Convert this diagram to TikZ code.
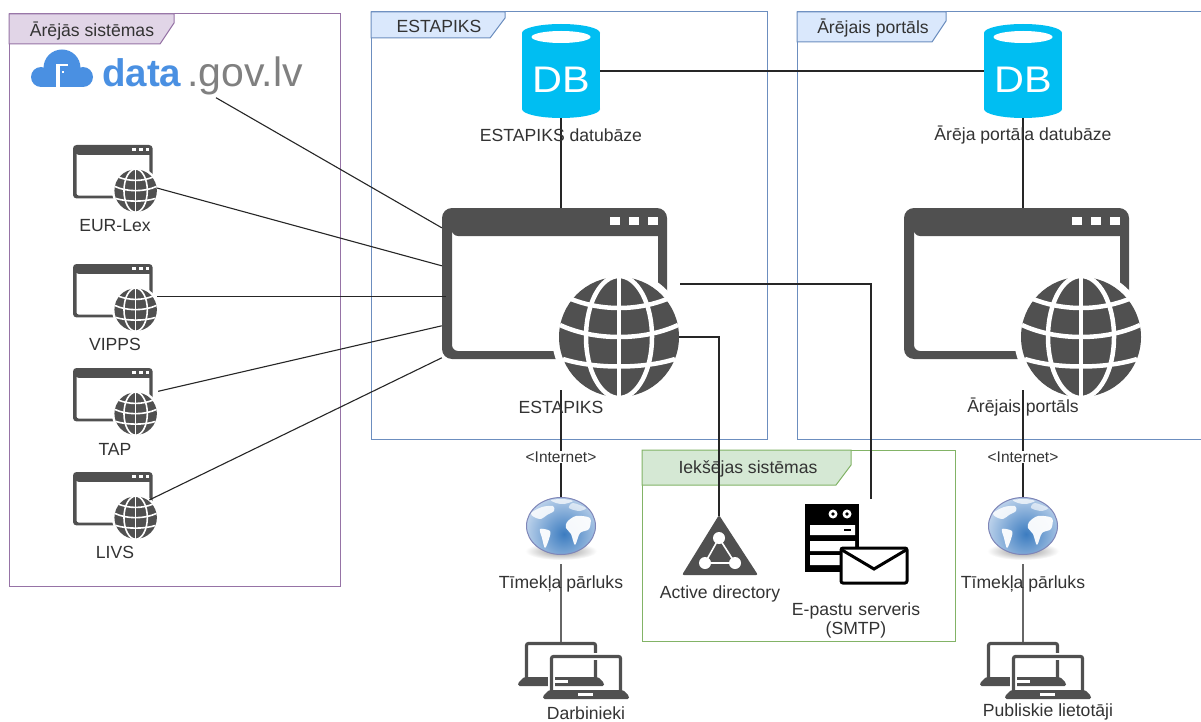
\documentclass[tikz,border=0pt]{standalone}
\usepackage{fontspec}
\setmainfont{Liberation Sans}
\definecolor{icongray}{HTML}{505050}
\definecolor{txtgray}{HTML}{333333}
\definecolor{dbblue}{HTML}{00BEF2}
\definecolor{cloudblue}{HTML}{4A90E2}
\definecolor{purpleline}{HTML}{9673A6}
\definecolor{purplefill}{HTML}{E1D5E7}
\definecolor{blueline}{HTML}{6C8EBF}
\definecolor{bluefill}{HTML}{DAE8FC}
\definecolor{greenline}{HTML}{82B366}
\definecolor{greenfill}{HTML}{D5E8D4}
\definecolor{seablue}{HTML}{3C7CC0}
\definecolor{skyblue}{HTML}{C5D8EE}
\definecolor{rimblue}{HTML}{7F86B8}
\tikzset{
	lbl/.style={font=\fontsize{17.6}{20}\selectfont,text=txtgray,inner sep=0pt,align=center},
	tablbl/.style={lbl},
	inet/.style={font=\fontsize{15.5}{17}\selectfont,text=txtgray,fill=white,inner sep=1pt},
	conn/.style={line width=1.1pt,black!85},
	portnode/.style={circle,inner sep=0pt,minimum size=#1},
	dbtxt/.style={font=\fontsize{37}{37}\selectfont,text=white,inner sep=0pt,xscale=1.12,transform shape},
	% window with a globe, #1 is the scale
	webwin/.pic={
		\begin{scope}[scale=#1]
		\fill[icongray,even odd rule,rounded corners=10*#1] (0,0) rectangle (225,151)
			[sharp corners] (10,28) -- (216,28) -- (216,143) [rounded corners=6*#1] -- (10,143) -- (10,28) -- cycle;
		\foreach \sx in {168,187,206}
			\fill[white] (\sx,9) rectangle ++(10,8);
		\fill[white] (177,129) circle (67);
		\fill[icongray] (177,129) circle (60);
		\begin{scope}[shift={(177,129)},draw=white,line width=4.5*#1]
		\draw (0,-62) -- (0,62);
		\draw (0,0) ellipse (33 and 61);
		\draw (-48,-38) .. controls (-18,-26) and (18,-26) .. (48,-38);
		\draw (-59,-12) .. controls (-25,4) and (25,4) .. (59,-12);
		\draw (-56,22) .. controls (-25,32) and (25,32) .. (56,22);
		\end{scope}
		\end{scope}
	},
	dbcyl/.pic={
		\fill[dbblue] (-39,-38) rectangle (39,38);
		\fill[dbblue] (0,-38) ellipse (39 and 9);
		\fill[dbblue] (0,38) ellipse (39 and 9);
		\fill[white] (0,-34) ellipse (29.5 and 6);
	},
	earth/.pic={
		\shade[inner color=gray!85,outer color=white] (0,25) ellipse (36 and 9);
		\begin{scope}
		\clip (0,0) ellipse (34.5 and 28.5);
		\shade[inner color=seablue,outer color=skyblue] (3,8) circle (42);
		\fill[white,opacity=.85] plot[smooth cycle] coordinates {(-30,-13) (-19,-19) (-8,-20) (-7,-15) (-14,-11) (-20,-7) (-27,-9)};
		\fill[white,opacity=.7] plot[smooth cycle] coordinates {(-10,-26) (2,-27) (12,-25) (3,-22) (-5,-23)};
		\fill[white,opacity=.95] plot[smooth cycle] coordinates {(6,-4) (15,-10) (29,-8) (28,3) (19,7) (14,19) (10,8) (5,2)};
		\fill[white,opacity=.95] plot[smooth cycle] coordinates {(-21,3) (-11,5) (-12,13) (-16,22) (-19,12)};
		\fill[white,opacity=.6] plot[smooth cycle] coordinates {(12,-23) (25,-18) (18,-15) (8,-18)};
		\end{scope}
		\draw[rimblue,line width=1pt] (0,0) ellipse (34.5 and 28.5);
	},
	laptop/.pic={
		\draw[white,line width=7pt] (1.5,35) -- (1.5,1.5) -- (70.5,1.5) -- (70.5,35);
		\draw[white,line width=4pt] (-1,33) -- (-7,41) -- (-7,44) -- (79,44) -- (79,41) -- (73,33);
		\draw[icongray,line width=3.2pt,rounded corners=2pt] (1.5,35) -- (1.5,1.5) -- (70.5,1.5) -- (70.5,35);
		\fill[icongray,rounded corners=1.5pt] (-1,35) -- (73,35) -- (79,41) -- (79,44) -- (-7,44) -- (-7,41) -- cycle;
		\fill[white] (28,38) rectangle (43,41);
	}
}
\begin{document}
\begin{tikzpicture}[x=1pt,y=-1pt]
	\useasboundingbox (0,0) rectangle (1201,722);
	\fill[white] (0,0) rectangle (1201,722);
	% containers
	\draw[draw=purpleline,line width=1pt] (9,14) rectangle (340,586);
	\draw[draw=purpleline,fill=purplefill,line width=1pt] (9,14) -- (174,14) -- (174,23) -- (160,44) -- (9,44) -- cycle;
	\node[tablbl] (tabext) at (92,31) {Ārējās sistēmas};
	\draw[draw=blueline,line width=1pt] (371,12) rectangle (767,439);
	\draw[draw=blueline,fill=bluefill,line width=1pt] (371,12) -- (505,12) -- (505,18) -- (490,38) -- (371,38) -- cycle;
	\node[tablbl] (tabest) at (439,26) {ESTAPIKS};
	\draw[draw=blueline,line width=1pt] (1201,12) -- (797,12) -- (797,439) -- (1201,439);
	\draw[draw=blueline,fill=bluefill,line width=1pt] (797,12) -- (946,12) -- (946,21) -- (932,42) -- (797,42) -- cycle;
	\node[tablbl] (tabport) at (873,28) {Ārējais portāls};
	\draw[draw=greenline,line width=1pt] (642,450) rectangle (955,641);
	\draw[draw=greenline,fill=greenfill,line width=1pt] (642,450) -- (851,450) -- (851,465) -- (836,485) -- (642,485) -- cycle;
	\node[tablbl] (tabint) at (748,469) {Iekšējas sistēmas};
	% icons as anchors
	\node[inner sep=0pt,minimum width=226pt,minimum height=152pt] (estapiks) at (555,284) {};
	\node[inner sep=0pt,minimum width=226pt,minimum height=152pt] (portals) at (1017,284) {};
	\node[portnode=120pt] (estglobe) at (619,337) {};
	\node[inner sep=0pt,minimum width=78pt,minimum height=94pt] (estdb) at (561,71) {};
	\node[inner sep=0pt,minimum width=78pt,minimum height=94pt] (portdb) at (1023,71) {};
	\node[portnode=44pt] (eurlex) at (135,190) {};
	\node[portnode=44pt] (vipps) at (135,309) {};
	\node[portnode=44pt] (tap) at (135,413) {};
	\node[portnode=44pt] (livs) at (135,517) {};
	\node[inner sep=0pt,minimum width=76pt,minimum height=59pt] (adicon) at (719,546) {};
	\node[inner sep=0pt,minimum width=70pt,minimum height=58pt] (estbrowser) at (561,526) {};
	\node[inner sep=0pt,minimum width=70pt,minimum height=58pt] (portbrowser) at (1023,526) {};
	\node[inner sep=0pt,minimum width=72pt,minimum height=4pt] (estlaptop) at (561,644) {};
	\node[inner sep=0pt,minimum width=72pt,minimum height=4pt] (portlaptop) at (1023,644) {};
	\coordinate (mailin) at (871,499);
	\coordinate (estout) at (561,390);
	\coordinate (portout) at (1023,390);
	\coordinate (estweb) at (561,564);
	\coordinate (portweb) at (1023,564);
	% logo
	\fill[cloudblue] (62,68) circle (18.5);
	\fill[cloudblue] (41,77) circle (10);
	\fill[cloudblue] (83,77) circle (10);
	\fill[cloudblue] (41,75) rectangle (83,87);
	\fill[white] (56,64) rectangle (68,87);
	\fill[cloudblue] (59.5,66) rectangle (68,87);
	\fill[white] (62,71) rectangle (63.5,73);
	\node[anchor=base west,inner sep=0pt,font=\fontsize{38.5}{40}\selectfont\bfseries,text=cloudblue] (datalbl) at (102,87) {data};
	\node[anchor=base west,inner sep=0pt,font=\fontsize{41}{42}\selectfont,text=black!50] (govlbl) at (187,87) {.gov.lv};
	% icons
	\pic at (estdb) {dbcyl};
	\pic at (portdb) {dbcyl};
	\node[dbtxt] (estdbtxt) at (561,80) {DB};
	\node[dbtxt] (portdbtxt) at (1023,80) {DB};
	\pic at (442,208) {webwin=1};
	\pic at (904,208) {webwin=1};
	\pic at (73,145) {webwin=.354};
	\pic at (73,264) {webwin=.354};
	\pic at (73,368) {webwin=.354};
	\pic at (73,472) {webwin=.354};
	\pic at (estbrowser) {earth};
	\pic at (portbrowser) {earth};
	\pic at (525,642) {laptop};
	\pic at (550,655) {laptop};
	\pic at (987,642) {laptop};
	\pic at (1012,655) {laptop};
	% active directory
	\fill[icongray,rounded corners=2pt] (719,515) -- (758,575) -- (682,575) -- cycle;
	\draw[white,line width=1.6pt] (719,538) -- (705,563) -- (735,563) -- cycle;
	\fill[white] (719,538) circle (6) (705,563) circle (6) (735,563) circle (6);
	% mail server
	\fill[black] (805,504) rectangle (859,572);
	\fill[white] (833,514) circle (4.5) (847,514) circle (4.5);
	\fill[black] (833,514) circle (1.8) (847,514) circle (1.8);
	\fill[white] (810,525) rectangle (855,535) (810,541) rectangle (855,551) (810,555) rectangle (855,565);
	\fill[black] (844,529) rectangle (851,531);
	\draw[black,fill=white,line width=3pt,rounded corners=2pt] (841,548) rectangle (907,583);
	\draw[black,line width=3pt] (842,550) -- (874,569) -- (906,550);
	% connectors
	\draw[conn] (estdb) -- (portdb);
	\draw[conn] (estdb.south) -- (estdb |- estapiks.north);
	\draw[conn] (portdb.south) -- (portdb |- portals.north);
	\draw[conn] ([xshift=29pt,yshift=-2pt]govlbl.south west) -- ([yshift=-20pt]estapiks.north west);
	\draw[conn] (eurlex.5) -- ([yshift=-58pt]estapiks.north west);
	\draw[conn] ([xshift=4pt]vipps.35) -- ([xshift=4pt]vipps.35 -| estapiks.west);
	\draw[conn] ([xshift=7.5pt,yshift=6pt]tap.45) -- ([yshift=-118pt]estapiks.north west);
	\draw[conn] (livs.50) -- ([yshift=-150pt]estapiks.north west);
	\draw[conn] ([xshift=12pt]estapiks.east) -| (mailin);
	\draw[conn] (estglobe.east) -| (adicon.north);
	\draw[conn] (estout) -- (estbrowser.north);
	\draw[conn] (portout) -- (portbrowser.north);
	\draw[conn,black!60] (estweb) -- (estlaptop.north);
	\draw[conn,black!60] (portweb) -- (portlaptop.north);
	% labels
	\node[lbl] (estdblbl) at (561,135) {ESTAPIKS datubāze};
	\node[lbl] (portdblbl) at (1023,135) {Ārēja portāla datubāze};
	\node[lbl] (eurlbl) at (115,226) {EUR-Lex};
	\node[lbl] (vippslbl) at (115,344) {VIPPS};
	\node[lbl] (taplbl) at (115,449) {TAP};
	\node[lbl] (livslbl) at (115,552) {LIVS};
	\node[lbl] (estlbl) at (561,407) {ESTAPIKS};
	\node[lbl] (portlbl) at (1023,407) {Ārējais portāls};
	\node[inet] (estinet) at (561,457) {<Internet>};
	\node[inet] (portinet) at (1023,457) {<Internet>};
	\node[lbl] (estweblbl) at (561,584) {Tīmekļa pārluks};
	\node[lbl] (portweblbl) at (1023,584) {Tīmekļa pārluks};
	\node[lbl] (adlbl) at (720,594) {Active directory};
	\node[lbl,text width=180pt,font=\fontsize{17.6}{19}\selectfont] (maillbl) at (856,620) {E-pastu serveris\\(SMTP)};
	\node[lbl] (estuser) at (586,713) {Darbinieki};
	\node[lbl] (portuser) at (1048,712) {Publiskie lietotāji};
\end{tikzpicture}
\end{document}
